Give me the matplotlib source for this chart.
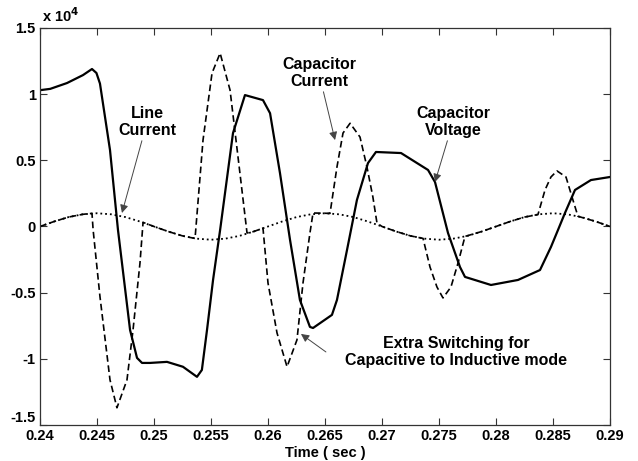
import numpy as np
from matplotlib import pyplot as plt

plt.rcParams['font.family'] = ['Liberation Sans', 'DejaVu Sans']
plt.rcParams['font.weight'] = 'bold'

# line current (dotted), read every 1.25 ms
t_line = [0.24 + 0.00125 * k for k in range(41)]
i_line = [0, 380, 710, 920, 1000, 920, 710, 380,
          0, -380, -710, -920, -1000, -920, -710, -380,
          0, 380, 710, 920, 1000, 920, 710, 380,
          0, -380, -710, -920, -1000, -920, -710, -380,
          0, 380, 710, 920, 1000, 920, 710, 380, 0]

# capacitor current (dashed)
t_cap_i = [0.24, 0.24125, 0.2425, 0.24375, 0.24456,
           0.24466, 0.24526, 0.24614, 0.24675, 0.24763, 0.24816, 0.24877, 0.24904,
           0.25, 0.25125, 0.2525, 0.2536,
           0.2543, 0.25509, 0.2558, 0.25667, 0.25737, 0.25816,
           0.25875, 0.25956,
           0.26, 0.26079, 0.26167, 0.26254, 0.26307, 0.26368, 0.26395,
           0.265, 0.26544,
           0.26605, 0.26658, 0.2672, 0.26807, 0.26868, 0.2692, 0.26956,
           0.27, 0.27125, 0.2725, 0.2736,
           0.27421, 0.27482, 0.27535, 0.27605, 0.27667, 0.27728,
           0.27875, 0.28, 0.28125, 0.2825, 0.28368,
           0.2843, 0.28482, 0.28535, 0.28614, 0.28675, 0.28719,
           0.28875, 0.29]
i_cap = [0, 380, 710, 920, 990,
         -260, -5300, -11590, -13700, -11590, -7820, -2760, 310,
         0, -380, -710, -905,
         6530, 11590, 13100, 10310, 5250, -490,
         -380, -125,
         -4270, -8040, -10600, -8570, -4270, -490, 1020,
         1000, 990,
         4500, 7060, 7800, 6760, 4500, 2230, 260,
         0, -380, -710, -900,
         -3060, -4570, -5400, -4570, -2760, -750,
         -380, 0, 380, 710, 900,
         2760, 3740, 4200, 3740, 2000, 770,
         380, 0]

# capacitor voltage (solid)
t_cap_v = [0.24, 0.2409, 0.24237, 0.24377, 0.24456, 0.24495, 0.24526, 0.24614,
           0.24684, 0.2479, 0.24851, 0.24895, 0.24965, 0.25114, 0.25254, 0.25377,
           0.2542, 0.25465, 0.25518, 0.2558, 0.25693, 0.25798, 0.25956, 0.26018,
           0.26105, 0.26193, 0.2628, 0.26368, 0.26395, 0.26561, 0.26605, 0.26693,
           0.2678, 0.26877, 0.26947, 0.27167, 0.27404, 0.27465, 0.27579, 0.27684,
           0.27728, 0.27956, 0.28193, 0.28386, 0.28482, 0.28544, 0.28605, 0.28693,
           0.28833, 0.29]
v_cap = [10300, 10400, 10840, 11440, 11900, 11600, 10800, 5780,
         -260, -7820, -9930, -10310, -10310, -10230, -10600, -11360,
         -10840, -7820, -4040, -260, 7060, 9930, 9550, 8560,
         4040, -1000, -5550, -7590, -7670, -6680, -5550, -1780,
         2000, 4790, 5630, 5550, 4270, 3360, -490, -3060,
         -3810, -4420, -4040, -3290, -1550, -260, 1020, 2760,
         3510, 3740]

fig = plt.figure(figsize=(6.38, 4.61), dpi=100)
ax = fig.add_axes([0.0627, 0.0781, 0.8934, 0.8612])

ax.plot(t_line, i_line, color='black', linestyle=':', linewidth=1.3)
ax.plot(t_cap_i, i_cap, color='black', linestyle=(0, (4, 2.2)), linewidth=1.2)
ax.plot(t_cap_v, v_cap, color='black', linestyle='-', linewidth=1.6)

ax.set_xlim(0.24, 0.29)
ax.set_ylim(-15000, 15000)
xt = np.arange(0.24, 0.2901, 0.005)
ax.set_xticks(xt)
ax.set_xticklabels(['0.24', '0.245', '0.25', '0.255', '0.26', '0.265',
                    '0.27', '0.275', '0.28', '0.285', '0.29'])
ax.set_yticks([-15000, -10000, -5000, 0, 5000, 10000, 15000])
ax.set_yticklabels(['-1.5', '-1', '-0.5', '0', '0.5', '1', '1.5'])
ax.tick_params(direction='in', top=True, right=True, length=5, width=0.8,
               labelsize=10.5, pad=3, color='#333333')
ax.get_yticklabels()[0].set_va('bottom')
for s in ax.spines.values():
    s.set_color('#333333')
    s.set_linewidth(0.9)

ax.text(0.003, 1.008, r'x 10$^{4}$', transform=ax.transAxes, ha='left',
        va='bottom', fontsize=10.5, fontweight='bold')
ax.set_xlabel('Time ( sec )', fontsize=10.5, fontweight='bold', labelpad=2)

arrow = dict(arrowstyle='-|>', color='#444444', lw=0.7, mutation_scale=12,
             shrinkA=0, shrinkB=0)
kw = dict(ha='center', va='center', fontsize=11.5, fontweight='bold',
          linespacing=1.15)
ax.annotate('Line\nCurrent', xy=(0.24719, 1020), xytext=(0.24939, 7890),
            arrowprops=arrow, **kw)
ax.annotate('Capacitor\nCurrent', xy=(0.26588, 6530), xytext=(0.26447, 11590),
            arrowprops=arrow, **kw)
ax.annotate('Capacitor\nVoltage', xy=(0.27465, 3360), xytext=(0.27623, 7890),
            arrowprops=arrow, **kw)
ax.annotate('', xy=(0.26289, -8120), xytext=(0.26508, -9480), arrowprops=arrow)
ax.text(0.27649, -9480, 'Extra Switching for\nCapacitive to Inductive mode', **kw)

plt.savefig('out.png', dpi=100)
